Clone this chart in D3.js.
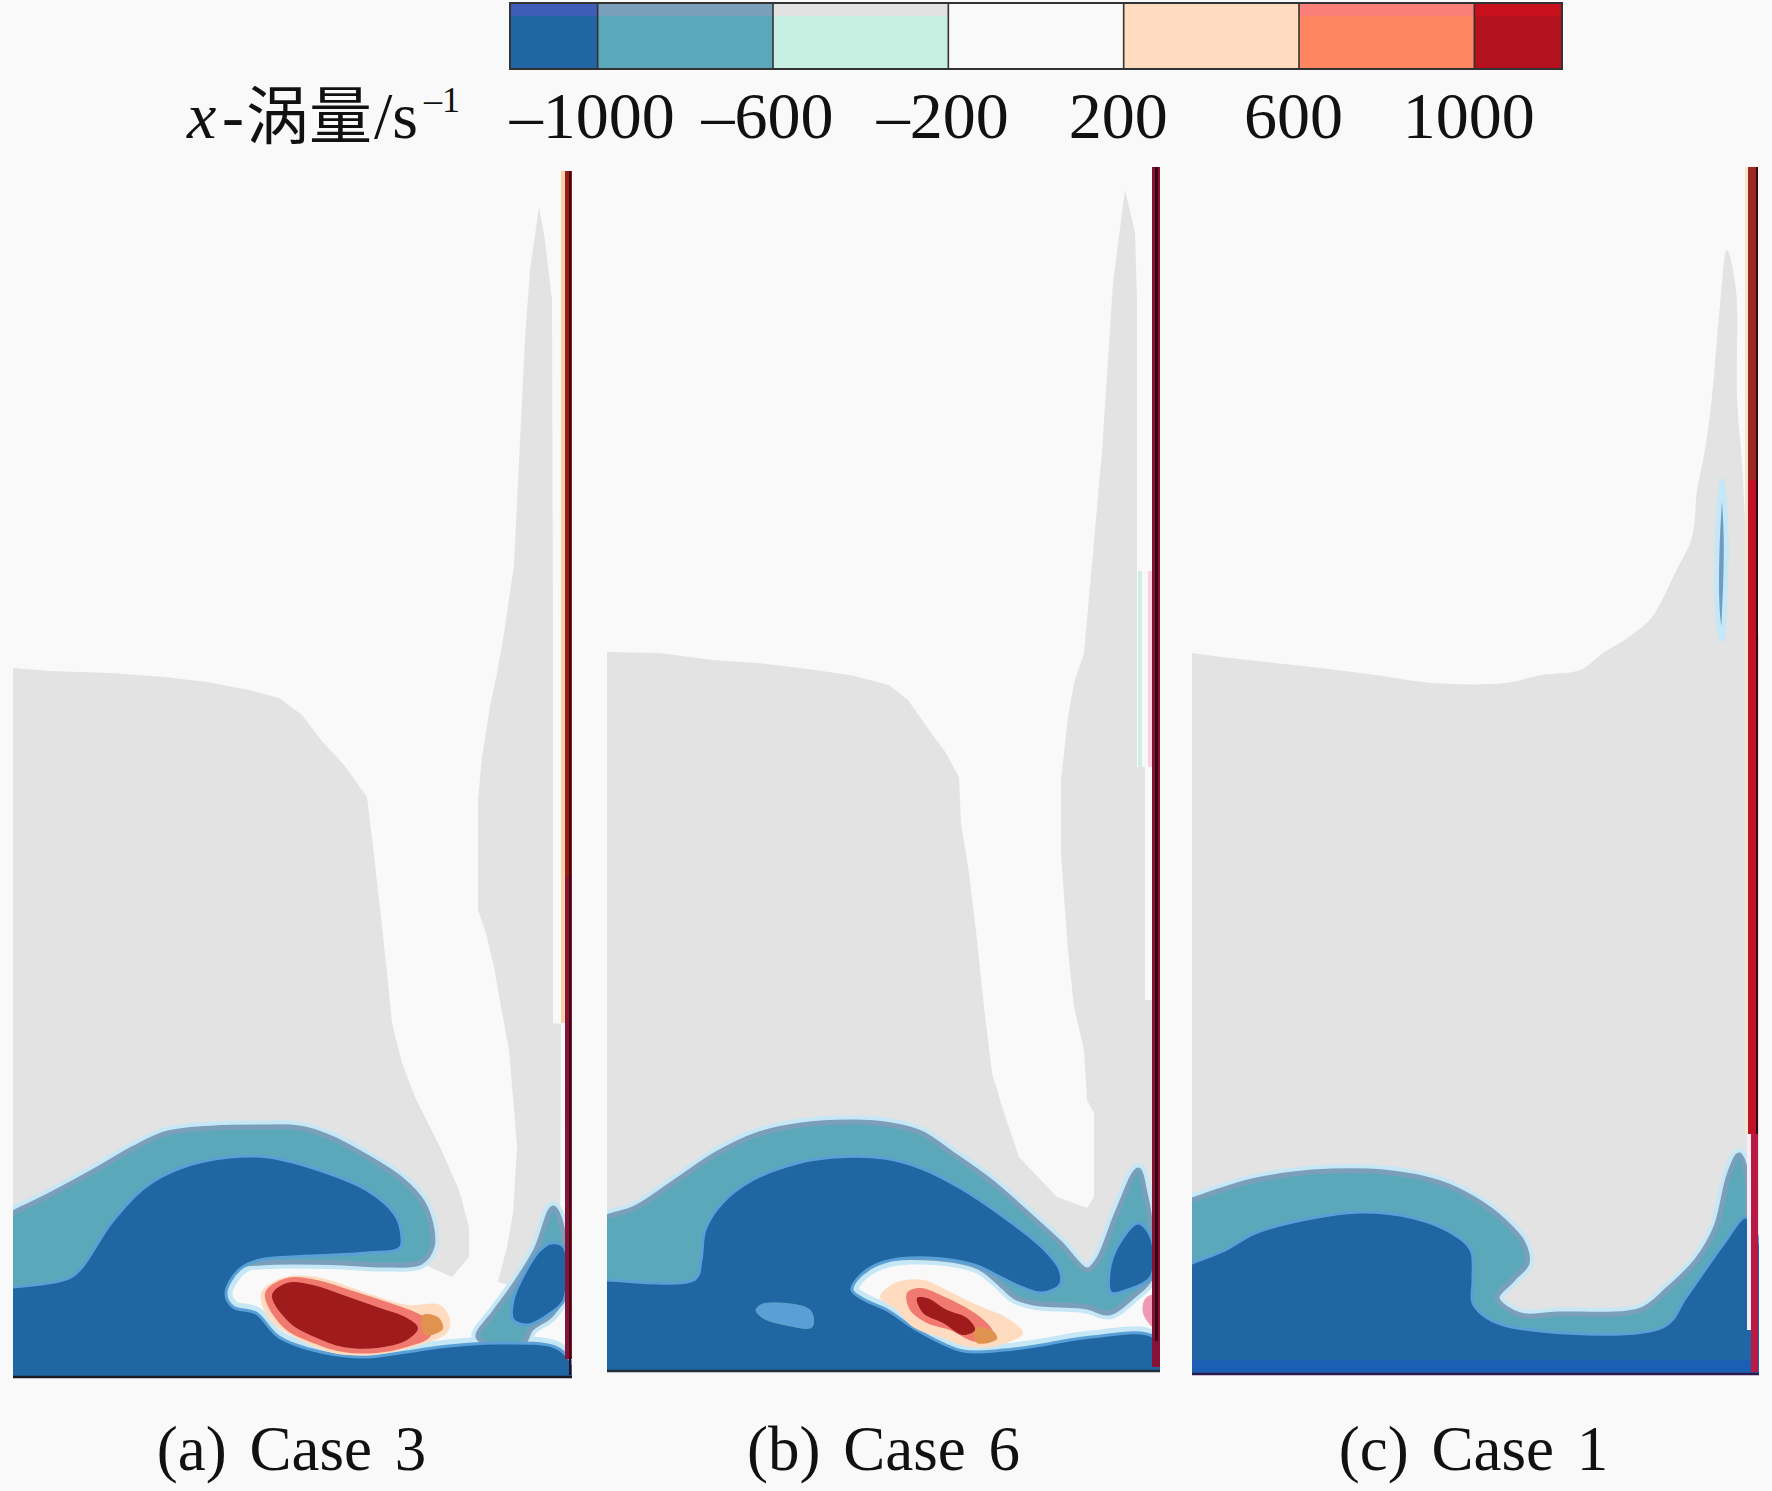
<!DOCTYPE html>
<html><head><meta charset="utf-8">
<script src="https://cdn.jsdelivr.net/npm/d3@7"></script>
<style>html,body{margin:0;padding:0;background:#f9f9f9}svg{display:block}text{font-family:"Liberation Serif",serif;fill:#111}</style>
</head><body><svg id="c" width="1772" height="1491"></svg>
<script>
// colour bar
const levels=[-1200,-1000,-600,-200,200,600,1000,1200];
const levelColors=["#1f66a3","#5ca8bb","#c8f0e2","#f9f9f9","#ffdcc0","#ff8660","#b5121f"];
const levelCaps=["#3e5cb8","#7a9fbb","#e2e2e2","#f9f9f9","#ffdcc0","#fa7f78","#c8101c"];
const tickValues=[-1000,-600,-200,200,600,1000];
const captions=["(a) Case 3","(b) Case 6","(c) Case 1"];

// case 3 contours (data units: distance from lower-left of domain)
const case3Gray=[[0,709],[37,706],[98,704],[152,700],[194,695],[236,687],[266,679],[289,662],[308,637],[331,612],[354,580],[360,530],[368,460],[374,404],[379,354],[389,314],[402,280],[427,230],[446,187],[456,150],[456,120],[439,100],[412,112],[367,122],[0,122]];
const case3Tower=[[526,1170],[517,1107],[512,1038],[501,812],[490,737],[484,704],[477,670],[469,620],[465,577],[465,467],[473,444],[481,410],[488,370],[496,327],[500,280],[504,230],[500,164],[494,130],[485,95],[547,77],[548,353],[540,354],[540,737],[539,1077],[532,1137]];
const case3Teal=[[-6,160],[0,164],[33,180],[83,207],[121,229],[155,244],[201,249],[247,250],[286,249],[316,240],[354,220],[389,197],[410,174],[419,147],[419,130],[408,115],[370,112],[331,114],[278,115],[247,114],[100,100],[0,77],[-6,77]];
const case3Blue=[[-6,90],[0,90],[56,99],[69,110],[98,154],[132,190],[167,209],[217,220],[255,220],[312,205],[354,187],[381,164],[388,147],[387,129],[354,124],[278,120],[247,117],[226,107],[213,84],[220,70],[243,64],[266,40],[308,25],[354,20],[393,25],[427,30],[484,34],[542,30],[557,17],[565,-6],[-6,-6]];
const case3LobeTeal=[[540,169],[551,140],[551,84],[538,62],[518,48],[510,34],[484,32],[465,40],[481,64],[500,90],[523,127]];
const case3LobeBlue=[[538,134],[551,130],[551,77],[538,64],[515,52],[500,57],[500,77],[515,110],[527,127]];
const case3Peach=[[248,84],[272,100],[304,100],[354,84],[394,72],[427,72],[437,57],[434,44],[400,30],[360,22],[320,24],[287,37],[257,57]];
const case3Salmon=[[252,84],[274,99],[304,97],[337,87],[374,75],[404,64],[420,54],[417,40],[394,30],[364,24],[330,25],[300,34],[270,50]];
const case3Tan=[[410,62],[425,60],[430,48],[412,42]];
const case3Red=[[259,82],[274,94],[300,92],[330,82],[364,70],[394,59],[405,49],[394,37],[364,29],[330,30],[304,39],[277,54]];
const case3Wall=[{k:"wallPeach",b:[548,552,354,1206]},{k:"wallRed",b:[552,559,500,1206]},{k:"wallCrimson",b:[552,559,18,500]},{k:"wallCore",b:[556,558,2,1206]}];

// case 6 contours
const case6Gray=[[0,719],[52,718],[105,711],[151,708],[193,703],[243,696],[282,686],[301,671],[320,644],[339,618],[352,594],[354,548],[362,498],[370,431],[377,364],[385,298],[397,258],[412,214],[450,174],[480,163],[487,174],[487,258],[480,271],[477,321],[467,364],[461,421],[458,461],[454,518],[454,591],[461,654],[467,688],[477,718],[495,919],[506,1088],[518,1181],[528,1139],[530,1071],[530,731],[530,604],[538,604],[538,371],[545,371],[545,120],[480,95],[400,120],[0,120]];
const case6Teal=[[-6,150],[0,154],[28,163],[66,188],[111,218],[149,236],[194,246],[246,249],[284,246],[314,238],[344,218],[382,191],[420,158],[453,128],[480,101],[491,111],[510,158],[531,201],[538,178],[544,141],[544,94],[525,74],[502,58],[480,64],[427,68],[408,74],[389,91],[371,104],[322,113],[269,109],[254,98],[100,90],[0,71],[-6,71]];
const case6Blue=[[-6,91],[0,91],[88,92],[94,111],[98,141],[115,168],[145,191],[190,208],[228,214],[277,213],[314,203],[352,184],[397,154],[435,124],[453,101],[453,86],[435,78],[416,83],[393,94],[367,106],[322,113],[277,109],[254,96],[245,81],[258,71],[280,61],[310,41],[356,20],[397,21],[435,26],[484,34],[547,34],[560,-6],[-6,-6]];
const case6LobeBlue=[[531,148],[544,134],[544,94],[521,81],[504,78],[502,98],[510,124]];
const case6Island=[[149,61],[156,67],[203,61],[205,44],[179,46],[156,53]];
const case6Peach=[[273,74],[290,89],[316,91],[343,79],[370,66],[400,53],[416,38],[393,26],[363,24],[336,33],[306,44],[290,61]];
const case6Salmon=[[300,78],[313,83],[340,73],[363,61],[380,48],[386,38],[370,29],[343,41],[320,48],[303,61]];
const case6Tan=[[368,43],[386,40],[390,32],[370,28]];
const case6Red=[[310,73],[320,73],[340,61],[360,53],[368,41],[356,36],[336,48],[316,58]];
const case6Pink=[[546,44],[546,76],[538,72],[536,58]];
const case6Wall=[{k:"wallMint",b:[531,535,604,800]},{k:"wallPink",b:[541,545,604,800]},{k:"wallCrimson",b:[545,553,4,1204]},{k:"wallCore",b:[548,551,30,1204]}];

// case 1 contours
const case1Gray=[[-20,725],[0,721],[56,714],[120,707],[184,699],[241,691],[313,691],[350,699],[388,704],[411,721],[437,737],[460,757],[483,801],[500,837],[505,884],[513,924],[520,978],[528,1069],[535,1124],[544,1084],[545,978],[552,874],[553,0],[-20,0]];
const case1Sliver=[[530,894],[534,844],[533,774],[530,734],[526,754],[525,824]];
const case1Teal=[[-6,172],[0,174],[56,192],[101,200],[139,203],[192,202],[245,192],[282,175],[313,152],[331,131],[335,111],[320,94],[305,76],[328,59],[365,60],[449,64],[475,84],[505,114],[524,147],[537,199],[547,219],[554,201],[554,127],[554,-6],[-6,-6]];
const case1Blue=[[-6,109],[0,111],[33,124],[63,141],[120,156],[169,162],[222,156],[260,141],[279,124],[281,94],[281,71],[294,57],[320,47],[471,47],[494,77],[532,131],[554,157],[570,-6],[-6,-6]];
const case1Floor=[[0,14],[562,14],[562,2],[0,2]];
const case1Wall=[{k:"wallPale",b:[553,556,240,1207]},{k:"wallRust",b:[556,564,894,1207]},{k:"wallBright",b:[556,564,240,894]},{k:"wallWhite",b:[555,559,44,240]},{k:"wallRose",b:[559,566,2,240]},{k:"wallCore",b:[564,566,240,1207]}];

const wallFill={wallPeach:"#f6d2a8",wallPale:"#f8e6c8",wallWhite:"#f4eef2",wallRed:"#951c18",wallCrimson:"#861238",wallRose:"#b81a45",wallCore:"#3a0612",wallMint:"#cdf0e3",wallPink:"#ffd0de",wallRust:"#9c2a22",wallBright:"#bd1428"};
const styles={
 gray:{fill:"#e3e3e3",curve:d3.curveLinearClosed},
 graySmooth:{fill:"#e3e3e3"},
 halo:{fill:"none",stroke:"#c6e7f6",sw:13},
 teal:{fill:"#5ca8bb",stroke:"#7b9fbb",sw:5},
 blue:{fill:"#1f66a3",stroke:"#5a9fd6",sw:3},
 island:{fill:"#5a9fd6",stroke:"#5fa6c8",sw:1},
 sliver:{fill:"#6d9dc2",stroke:"#c6e7f6",sw:5},
 peach:{fill:"#ffdcc0"},
 salmon:{fill:"#f07a70"},
 tan:{fill:"#e0924f"},
 red:{fill:"#a01b1c"},
 pink:{fill:"#ee9ab4"},
 floor:{fill:"#1b5fb5",curve:d3.curveLinearClosed}
};

const panels=[
 {frame:[13,572,171,1377],size:[559,1206],line:"#1a1a22",
  layers:[["gray",case3Gray],["gray",case3Tower],["halo",case3Blue],["halo",case3Teal],["halo",case3LobeTeal],["teal",case3Teal],["teal",case3LobeTeal],["blue",case3Blue],["blue",case3LobeBlue],["peach",case3Peach],["salmon",case3Salmon],["tan",case3Tan],["red",case3Red]],wall:case3Wall},
 {frame:[607,1160,161,1371],size:[553,1210],line:"#22303a",
  layers:[["gray",case6Gray],["halo",case6Blue],["halo",case6Teal],["teal",case6Teal],["blue",case6Blue],["blue",case6LobeBlue],["island",case6Island],["peach",case6Peach],["salmon",case6Salmon],["tan",case6Tan],["red",case6Red],["pink",case6Pink]],wall:case6Wall},
 {frame:[1192,1759,167,1374],size:[567,1207],line:"#2a1a50",
  layers:[["graySmooth",case1Gray],["sliver",case1Sliver],["halo",case1Teal],["teal",case1Teal],["blue",case1Blue],["floor",case1Floor]],wall:case1Wall}
];

const svg=d3.select("#c");
svg.append("rect").attr("width",1772).attr("height",1491).attr("fill","#f9f9f9");
const defs=svg.append("defs");

panels.forEach((p,i)=>{
 const [l,r,t,b]=p.frame;
 const x=d3.scaleLinear().domain([0,p.size[0]]).range([l,r]);
 const y=d3.scaleLinear().domain([0,p.size[1]]).range([b,t]);
 defs.append("clipPath").attr("id","clip"+i).append("rect").attr("x",l).attr("y",t).attr("width",r-l).attr("height",b-t);
 const g=svg.append("g").attr("clip-path",`url(#clip${i})`);
 p.layers.forEach(([k,pts])=>{
  const s=styles[k];
  const line=d3.line().x(d=>x(d[0])).y(d=>y(d[1])).curve(s.curve||d3.curveCatmullRomClosed.alpha(0.5));
  g.append("path").attr("d",line(pts)).attr("fill",s.fill).attr("stroke",s.stroke||"none").attr("stroke-width",s.sw||0).attr("stroke-linejoin","round");
 });
 g.selectAll("rect.wall").data(p.wall).join("rect").attr("class","wall")
  .attr("x",d=>x(d.b[0])).attr("width",d=>x(d.b[1])-x(d.b[0]))
  .attr("y",d=>y(d.b[3])).attr("height",d=>y(d.b[2])-y(d.b[3]))
  .attr("fill",d=>wallFill[d.k]);
 svg.append("line").attr("x1",l).attr("x2",r).attr("y1",b).attr("y2",b).attr("stroke",p.line).attr("stroke-width",2.5);
 svg.append("text").attr("x",(l+r)/2-(i==0?1:i==1?0:2)).attr("y",1470).attr("text-anchor","middle")
  .attr("font-size",63).attr("word-spacing",7).text(captions[i]);
});

// colour bar
const cx=d3.scaleLinear().domain([-1200,1200]).range([510,1562]);
const bar=svg.append("g");
const segs=d3.pairs(levels);
bar.selectAll("rect.s").data(segs).join("rect").attr("class","s")
 .attr("x",d=>cx(d[0])).attr("width",d=>cx(d[1])-cx(d[0])).attr("y",3).attr("height",66)
 .attr("fill",(d,i)=>levelColors[i]);
bar.selectAll("rect.c").data(segs).join("rect").attr("class","c")
 .attr("x",d=>cx(d[0])).attr("width",d=>cx(d[1])-cx(d[0])).attr("y",3).attr("height",13)
 .attr("fill",(d,i)=>levelCaps[i]);
bar.selectAll("line").data(levels.slice(1,-1)).join("line")
 .attr("x1",d=>cx(d)).attr("x2",d=>cx(d)).attr("y1",3).attr("y2",69).attr("stroke","#333").attr("stroke-width",1.6);
bar.append("rect").attr("x",cx(-1200)).attr("y",3).attr("width",cx(1200)-cx(-1200)).attr("height",66)
 .attr("fill","none").attr("stroke","#333").attr("stroke-width",2);

const axis=d3.axisBottom(cx).tickValues(tickValues).tickSize(0).tickFormat(v=>String(v).replace("-","–"));
const ag=svg.append("g").attr("transform","translate(-6,0)").call(axis);
ag.select(".domain").remove();
ag.selectAll("text").attr("y",138).attr("dy",0).attr("font-size",66).attr("font-family","Liberation Serif").attr("fill","#111");

// colour bar title
const title=svg.append("text").attr("y",138).attr("font-size",66);
title.append("tspan").attr("x",187).attr("font-style","italic").text("x");
title.append("tspan").attr("x",222).text("-");
title.append("tspan").attr("x",246).attr("font-family","Noto Sans CJK SC").attr("font-size",63).text("涡量");
title.append("tspan").attr("x",374).text("/s");
title.append("tspan").attr("x",424).attr("font-size",36).attr("dy",-26).text("–1");
</script></body></html>
